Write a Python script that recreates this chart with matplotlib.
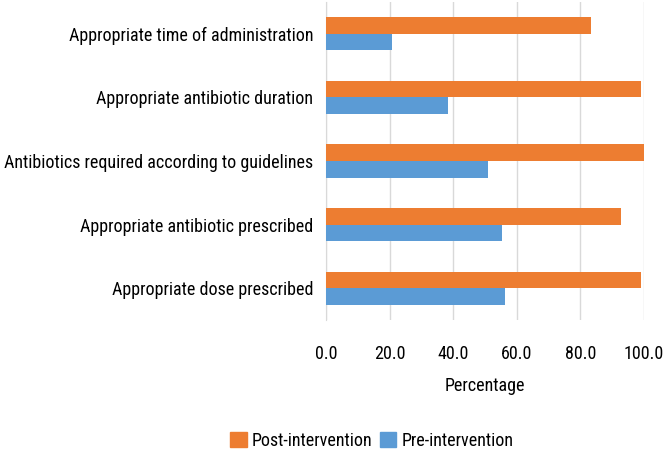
import matplotlib
matplotlib.use("Agg")
import matplotlib.pyplot as plt
import numpy as np
from matplotlib.patches import Patch

categories = [
    "Appropriate time of administration",
    "Appropriate antibiotic duration",
    "Antibiotics required according to guidelines",
    "Appropriate antibiotic prescribed",
    "Appropriate dose prescribed",
]
post_values = [83.4, 99.0, 100.0, 92.7, 99.0]
pre_values = [20.9, 38.5, 50.9, 55.2, 56.3]
x_ticks = [0, 20, 40, 60, 80, 100]

plt.rcParams['font.family'] = ['Roboto Condensed', 'DejaVu Sans']

fig = plt.figure(figsize=(6.67, 4.55), dpi=100)
ax = fig.add_axes([326/667, 1-320/455, (644-326)/667, (320-2)/455])

orange = "#ED7D31"
blue = "#5B9BD5"
n = len(categories)
pos = np.arange(n)[::-1]
h = 0.26
ax.barh(pos + h/2, post_values, height=h, color=orange, zorder=3)
ax.barh(pos - h/2, pre_values, height=h, color=blue, zorder=3)

ax.set_xlim(0, 100)
ax.set_ylim(-0.5, n - 0.5)
ax.set_xticks(x_ticks)
ax.set_xticklabels([f"{v:.1f}" for v in x_ticks], fontsize=13)
ax.set_yticks(pos)
ax.set_yticklabels(categories, fontsize=13)
ax.tick_params(axis='both', length=0)
ax.tick_params(axis='x', pad=18)
ax.tick_params(axis='y', pad=9)
ax.grid(axis='x', color="#D9D9D9", linewidth=1, zorder=0)
for s in ['top', 'right', 'bottom']:
    ax.spines[s].set_visible(False)
ax.spines['left'].set_color("#D9D9D9")
ax.set_xlabel("Percentage", fontsize=13, labelpad=10)

handles = [Patch(color=orange, label="Post-intervention"), Patch(color=blue, label="Pre-intervention")]
fig.legend(handles=handles, loc='center', bbox_to_anchor=(372/667, 1-441/455), ncol=2,
           frameon=False, fontsize=13, handlelength=0.9, handleheight=0.9,
           handletextpad=0.3, columnspacing=0.4)

fig.savefig("out.png", dpi=100)
